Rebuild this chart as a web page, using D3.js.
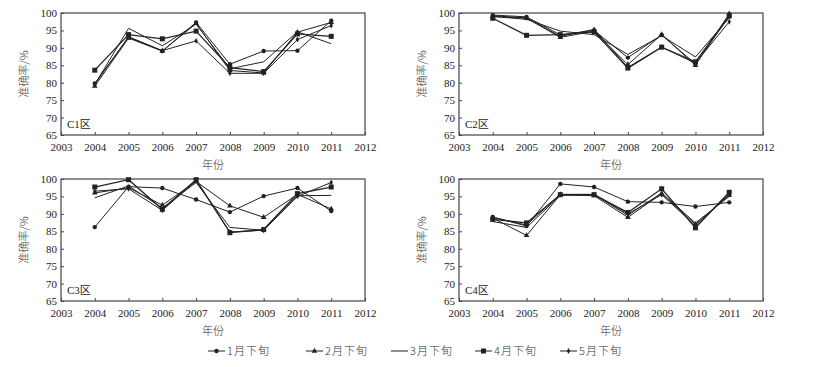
<!DOCTYPE html>
<html>
<head>
<meta charset="utf-8">
<script src="https://cdn.jsdelivr.net/npm/d3@7"></script>
<style>
  body { margin: 0; background: #fff; }
  svg text { font-family: "Liberation Serif", "Noto Sans CJK SC", serif; fill: #222; }
  .cjk { font-family: "Noto Sans CJK SC"; font-weight: 300; fill: #333; }
</style>
</head>
<body>
<div id="chart"></div>
<script>
// years on the x axis
const years = [2004, 2005, 2006, 2007, 2008, 2009, 2010, 2011];
const seriesNames = ["1月下旬", "2月下旬", "3月下旬", "4月下旬", "5月下旬"];
const markerTypes = ["circle", "triangle", "none", "square", "diamond"];
const yTicks = [65, 70, 75, 80, 85, 90, 95, 100];
const xTicks = [2003, 2004, 2005, 2006, 2007, 2008, 2009, 2010, 2011, 2012];

// C1区
const c1Jan = [79.8, 93.0, 89.1, 97.3, 85.3, 89.1, 89.2, 97.8];
const c1Feb = [79.0, 92.8, 89.1, 97.0, 83.5, 82.8, 94.5, 97.3];
const c1Mar = [79.5, 95.6, 90.6, 96.8, 84.0, 86.0, 94.6, 91.2];
const c1Apr = [83.6, 93.8, 92.6, 94.8, 84.3, 83.2, 94.0, 93.3];
const c1May = [79.6, 93.2, 89.2, 92.0, 82.7, 82.7, 92.4, 96.4];

// C2区
const c2Jan = [99.4, 98.9, 93.7, 95.0, 87.2, 93.7, 85.4, 99.0];
const c2Feb = [99.0, 98.5, 93.0, 94.8, 85.2, 93.8, 85.0, 99.8];
const c2Mar = [99.0, 98.2, 94.8, 93.8, 88.1, 93.5, 87.4, 98.6];
const c2Apr = [98.5, 93.6, 93.8, 94.6, 84.2, 90.2, 86.0, 99.2];
const c2May = [99.2, 98.6, 93.3, 95.3, 84.4, 90.2, 85.6, 97.5];

// C3区
const c3Jan = [86.2, 97.8, 97.4, 94.1, 90.5, 95.1, 97.4, 90.8];
const c3Feb = [96.0, 97.5, 92.5, 99.3, 92.3, 89.0, 95.6, 91.4];
const c3Mar = [94.6, 98.0, 91.7, 99.0, 86.1, 85.3, 95.2, 95.3];
const c3Apr = [97.7, 99.8, 91.3, 99.8, 84.6, 85.5, 95.8, 97.7];
const c3May = [96.5, 97.2, 91.0, 99.5, 84.8, 85.3, 95.0, 99.0];

// C4区
const c4Jan = [89.1, 86.5, 98.6, 97.7, 93.5, 93.3, 92.1, 93.3];
const c4Feb = [88.8, 83.8, 95.5, 95.2, 89.0, 95.8, 87.0, 95.3];
const c4Mar = [87.8, 86.1, 95.3, 95.5, 89.6, 96.0, 87.4, 95.0];
const c4Apr = [88.4, 87.4, 95.5, 95.5, 90.4, 97.2, 86.0, 96.2];
const c4May = [89.0, 86.8, 95.6, 95.6, 90.0, 95.5, 86.6, 95.6];

const panels = [
  { name: "C1区", series: [c1Jan, c1Feb, c1Mar, c1Apr, c1May], x: 61, y: 13 },
  { name: "C2区", series: [c2Jan, c2Feb, c2Mar, c2Apr, c2May], x: 459, y: 13 },
  { name: "C3区", series: [c3Jan, c3Feb, c3Mar, c3Apr, c3May], x: 61, y: 179 },
  { name: "C4区", series: [c4Jan, c4Feb, c4Mar, c4Apr, c4May], x: 459, y: 179 }
];

const width = 833, height = 367;
const pw = 304, ph = 122;
const lineColor = "#222";

const svg = d3.select("#chart").append("svg")
  .attr("width", width)
  .attr("height", height);

function drawMarker(g, type, cx, cy) {
  if (type === "circle") {
    g.append("circle").attr("cx", cx).attr("cy", cy).attr("r", 2.2).attr("fill", lineColor);
  } else if (type === "square") {
    g.append("rect").attr("x", cx - 2.5).attr("y", cy - 2.5).attr("width", 5).attr("height", 5).attr("fill", lineColor);
  } else if (type === "triangle") {
    g.append("path").attr("d", d3.symbol(d3.symbolTriangle, 14)()).attr("transform", `translate(${cx},${cy})`).attr("fill", lineColor);
  } else if (type === "diamond") {
    g.append("path").attr("d", d3.symbol(d3.symbolDiamond, 10)()).attr("transform", `translate(${cx},${cy})`).attr("fill", lineColor);
  }
}

panels.forEach(p => {
  const g = svg.append("g").attr("transform", `translate(${p.x},${p.y})`);
  const x = d3.scaleLinear().domain([2003, 2012]).range([0, pw]);
  const y = d3.scaleLinear().domain([65, 100]).range([ph, 0]);

  // y axis
  const yAxis = g.append("g").call(d3.axisLeft(y).tickValues(yTicks).tickSize(-3).tickPadding(4));
  yAxis.select(".domain").remove();
  yAxis.selectAll("line").attr("stroke", "#444");
  yAxis.selectAll("text").attr("font-size", 11).attr("font-family", "Liberation Serif").attr("fill", "#333");

  // x axis
  const xAxis = g.append("g").attr("transform", `translate(0,${ph})`)
    .call(d3.axisBottom(x).tickValues(xTicks).tickFormat(d3.format("d")).tickSize(-3).tickPadding(8));
  xAxis.select(".domain").remove();
  xAxis.selectAll("line").attr("stroke", "#444");
  xAxis.selectAll("text").attr("font-size", 11).attr("font-family", "Liberation Serif").attr("fill", "#333");

  // frame
  g.append("rect").attr("width", pw).attr("height", ph)
    .attr("fill", "none").attr("stroke", "#444").attr("stroke-width", 1.2);

  const line = d3.line().x((d, i) => x(years[i])).y(d => y(d));

  p.series.forEach((vals, si) => {
    g.append("path").datum(vals)
      .attr("d", line)
      .attr("fill", "none")
      .attr("stroke", lineColor)
      .attr("stroke-width", si === 3 ? 1.3 : 1);
    vals.forEach((v, i) => drawMarker(g, markerTypes[si], x(years[i]), y(v)));
  });

  // panel label
  g.append("text").attr("x", 6).attr("y", ph - 7)
    .attr("font-size", 11).attr("fill", "#333").text(p.name);

  // axis titles
  g.append("text").attr("class", "cjk").attr("x", pw / 2).attr("y", ph + 34)
    .attr("text-anchor", "middle").attr("font-size", 11).text("年份");
  g.append("text").attr("class", "cjk")
    .attr("transform", `translate(-33,${ph / 2}) rotate(-90)`)
    .attr("text-anchor", "middle").attr("font-size", 11).text("准确率/%");
});

// legend
const legendX = [200, 298, 383, 467, 552];
const lg = svg.append("g").attr("transform", "translate(0,351)");
seriesNames.forEach((n, i) => {
  const item = lg.append("g").attr("transform", `translate(${legendX[i]},0)`);
  item.append("line").attr("x1", 8).attr("x2", 25).attr("y1", 0).attr("y2", 0)
    .attr("stroke", lineColor).attr("stroke-width", 1);
  drawMarker(item, markerTypes[i], 16.5, 0);
  item.append("text").attr("class", "cjk").attr("x", 27).attr("y", 4)
    .attr("font-size", 11).attr("letter-spacing", 1).text(n);
});
</script>
</body>
</html>
